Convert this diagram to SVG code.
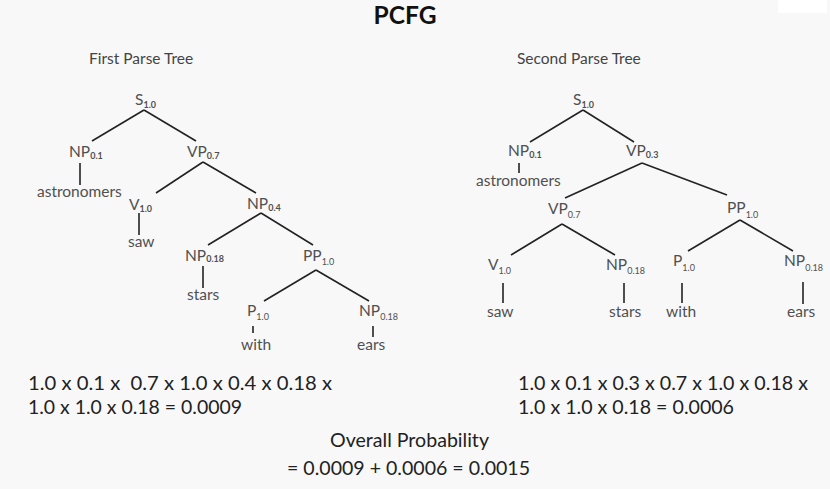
<svg xmlns="http://www.w3.org/2000/svg" width="830" height="489" viewBox="0 0 830 489">
<style>
text{font-family:Lato,"Open Sans","Liberation Sans",sans-serif;}
.t{font-size:15.5px;fill:#505050;}
.s{font-size:9px;fill:#505050;}
.h{font-size:15.5px;fill:#444;}
.f{font-size:19px;fill:#222;}
.title{font-size:24px;font-weight:bold;fill:#111;}
.c line{stroke:#222;stroke-width:1.6;}
</style>
<rect width="830" height="489" fill="#f8f8f8"/>
<rect x="778" y="0" width="49" height="13" fill="#ffffff"/>
<text class="title" x="405" y="24" text-anchor="middle" textLength="63" lengthAdjust="spacingAndGlyphs">PCFG</text>
<text class="h" x="89" y="64">First Parse Tree</text>
<text class="h" x="517" y="64">Second Parse Tree</text>

<g id="connectors" class="c">
<line x1="144" y1="110" x2="92" y2="141"/>
<line x1="144" y1="110" x2="196" y2="141"/>
<line x1="80" y1="163" x2="80" y2="185"/>
<line x1="203" y1="162" x2="156" y2="193"/>
<line x1="203" y1="162" x2="256" y2="193"/>
<line x1="139" y1="213" x2="139" y2="235"/>
<line x1="261" y1="213" x2="208" y2="245"/>
<line x1="261" y1="213" x2="313" y2="245"/>
<line x1="203" y1="266" x2="203" y2="288"/>
<line x1="316" y1="270" x2="264" y2="301"/>
<line x1="316" y1="270" x2="369" y2="301"/>
<line x1="253" y1="326" x2="253" y2="333"/>
<line x1="373" y1="326" x2="373" y2="337"/>
<line x1="583" y1="110" x2="530" y2="142"/>
<line x1="583" y1="110" x2="634" y2="142"/>
<line x1="519" y1="163" x2="519" y2="173"/>
<line x1="642" y1="163" x2="565" y2="198"/>
<line x1="642" y1="163" x2="727" y2="195"/>
<line x1="562" y1="224" x2="511" y2="255"/>
<line x1="562" y1="224" x2="615" y2="255"/>
<line x1="740" y1="220" x2="688" y2="251"/>
<line x1="740" y1="220" x2="793" y2="251"/>
<line x1="503" y1="283" x2="503" y2="303"/>
<line x1="624" y1="283" x2="624" y2="303"/>
<line x1="682" y1="283" x2="682" y2="303"/>
<line x1="803" y1="282" x2="803" y2="304"/>
</g>

<g id="t1-S"><text class="t" x="135" y="105">S<tspan class="s" font-weight="bold" dy="3">1.0</tspan></text></g>
<g id="t1-NP1"><text class="t" x="69" y="157">NP<tspan class="s" font-weight="bold" dy="2">0.1</tspan></text></g>
<g id="t1-VP"><text class="t" x="187" y="157">VP<tspan class="s" font-weight="bold" dy="2">0.7</tspan></text></g>
<g id="t1-astronomers"><text class="t" x="37" y="197">astronomers</text></g>
<g id="t1-V"><text class="t" x="129" y="210">V<tspan class="s" font-weight="bold" dy="2">1.0</tspan></text></g>
<g id="t1-NP2"><text class="t" x="247" y="209">NP<tspan class="s" font-weight="bold" dy="2">0.4</tspan></text></g>
<g id="t1-saw"><text class="t" x="128" y="247">saw</text></g>
<g id="t1-NP3"><text class="t" x="185" y="261">NP<tspan class="s" font-weight="bold" dy="1">0.18</tspan></text></g>
<g id="t1-PP"><text class="t" x="303" y="261">PP<tspan class="s" dy="4">1.0</tspan></text></g>
<g id="t1-stars"><text class="t" x="187" y="300">stars</text></g>
<g id="t1-P"><text class="t" x="247" y="316">P<tspan class="s" dy="4">1.0</tspan></text></g>
<g id="t1-NP4"><text class="t" x="359" y="316">NP<tspan class="s" dy="4">0.18</tspan></text></g>
<g id="t1-with"><text class="t" x="241" y="350">with</text></g>
<g id="t1-ears"><text class="t" x="357" y="350">ears</text></g>

<g id="t2-S"><text class="t" x="573" y="105">S<tspan class="s" font-weight="bold" dy="3">1.0</tspan></text></g>
<g id="t2-NP1"><text class="t" x="508" y="156">NP<tspan class="s" font-weight="bold" dy="2">0.1</tspan></text></g>
<g id="t2-VP1"><text class="t" x="626" y="156">VP<tspan class="s" font-weight="bold" dy="2">0.3</tspan></text></g>
<g id="t2-astronomers"><text class="t" x="476" y="186">astronomers</text></g>
<g id="t2-VP2"><text class="t" x="548" y="214">VP<tspan class="s" dy="4">0.7</tspan></text></g>
<g id="t2-PP"><text class="t" x="727" y="213">PP<tspan class="s" dy="5">1.0</tspan></text></g>
<g id="t2-V"><text class="t" x="488" y="270">V<tspan class="s" dy="4">1.0</tspan></text></g>
<g id="t2-NP2"><text class="t" x="606" y="270">NP<tspan class="s" dy="4">0.18</tspan></text></g>
<g id="t2-P"><text class="t" x="673" y="266">P<tspan class="s" dy="5">1.0</tspan></text></g>
<g id="t2-NP3"><text class="t" x="784" y="266">NP<tspan class="s" dy="5">0.18</tspan></text></g>
<g id="t2-saw"><text class="t" x="487" y="317">saw</text></g>
<g id="t2-stars"><text class="t" x="609" y="317">stars</text></g>
<g id="t2-with"><text class="t" x="666" y="317">with</text></g>
<g id="t2-ears"><text class="t" x="787" y="317">ears</text></g>

<text class="f" x="28" y="390" xml:space="preserve" textLength="304" lengthAdjust="spacingAndGlyphs">1.0 x 0.1 x  0.7 x 1.0 x 0.4 x 0.18 x</text>
<text class="f" x="28" y="414" textLength="214" lengthAdjust="spacingAndGlyphs">1.0 x 1.0 x 0.18 = 0.0009</text>
<text class="f" x="518" y="390" textLength="290" lengthAdjust="spacingAndGlyphs">1.0 x 0.1 x 0.3 x 0.7 x 1.0 x 0.18 x</text>
<text class="f" x="518" y="414" textLength="216" lengthAdjust="spacingAndGlyphs">1.0 x 1.0 x 0.18 = 0.0006</text>
<text class="f" x="330" y="447" textLength="159" lengthAdjust="spacingAndGlyphs">Overall Probability</text>
<text class="f" x="287" y="475" textLength="243" lengthAdjust="spacingAndGlyphs">= 0.0009 + 0.0006 = 0.0015</text>
</svg>
